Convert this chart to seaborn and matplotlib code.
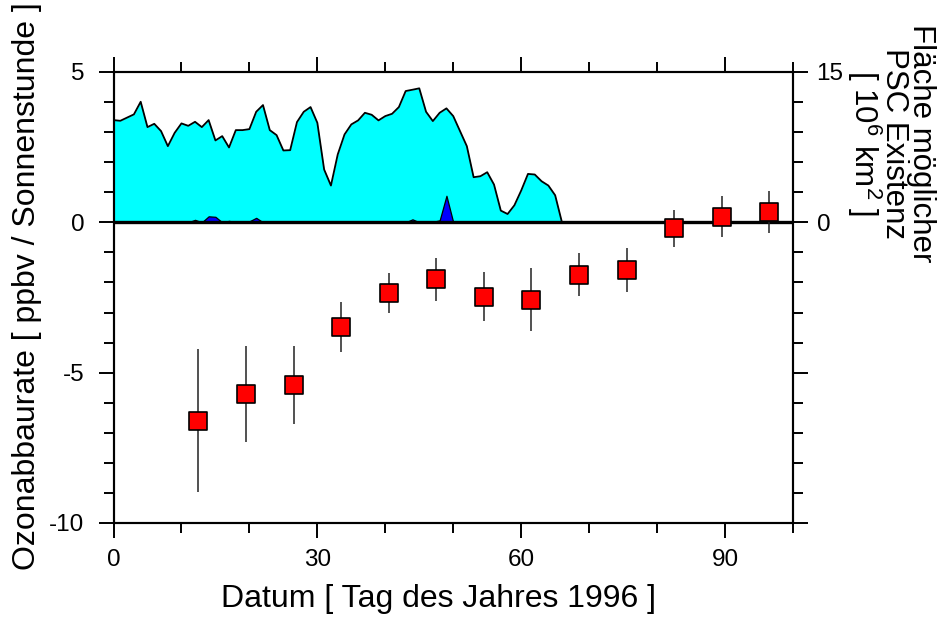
import matplotlib
matplotlib.use("Agg")
import matplotlib.pyplot as plt
from matplotlib.ticker import MultipleLocator
import pandas as pd
import seaborn as sns

# ---------------- data ----------------
psc_days = list(range(0, 67))
psc_area = [10.2, 10.13, 10.45, 10.77, 12.03, 9.5, 9.83, 9.1, 7.6, 8.93,
            9.87, 9.63, 10.03, 9.5, 10.2, 8.17, 8.6, 7.47, 9.2, 9.2,
            9.3, 11.03, 11.7, 9.2, 8.7, 7.17, 7.2, 10.0, 11.03, 11.5,
            9.93, 5.27, 3.67, 6.77, 8.77, 9.77, 10.17, 10.93, 10.73, 10.17,
            10.6, 10.83, 11.5, 13.1, 13.23, 13.37, 11.03, 10.1, 10.93, 11.37,
            10.6, 9.1, 7.6, 4.5, 4.6, 5.0, 3.77, 1.17, 0.83, 1.7,
            3.17, 4.83, 4.77, 4.1, 3.67, 2.7, 0.0]
nat_area = [0, 0, 0, 0, 0, 0, 0, 0, 0, 0,
            0, 0, 0.25, 0, 0.6, 0.55, 0, 0.15, 0, 0,
            0.1, 0.45, 0, 0, 0, 0, 0, 0, 0, 0,
            0, 0, 0, 0, 0, 0, 0, 0, 0, 0,
            0, 0, 0, 0, 0.3, 0, 0, 0.05, 0.2, 2.65,
            0, 0, 0, 0, 0, 0, 0, 0, 0, 0,
            0, 0.1, 0, 0, 0, 0, 0]

rate_days = [12.5, 19.5, 26.5, 33.5, 40.5, 47.5, 54.5, 61.5, 68.5, 75.5, 82.5, 89.5, 96.5]
rate = [-6.6, -5.7, -5.42, -3.48, -2.35, -1.9, -2.47, -2.57, -1.74, -1.59, -0.2, 0.19, 0.33]
rate_err = [2.38, 1.6, 1.3, 0.83, 0.67, 0.73, 0.82, 1.05, 0.72, 0.74, 0.61, 0.67, 0.7]

x_label = "Datum [ Tag des Jahres 1996 ]"
y_label = "Ozonabbaurate [ ppbv / Sonnenstunde ]"
y2_label = "Fläche möglicher\nPSC Existenz\n[ 10$^6$ km$^2$ ]"
y2_ticks = [-30, -15, 0, 15]
y2_ticklabels = ["", "", "0", "15"]

# ---------------- style ----------------
sns.set_theme(style="ticks")
plt.rcParams["font.family"] = ["Liberation Sans", "DejaVu Sans"]
plt.rcParams["mathtext.fontset"] = "custom"
plt.rcParams["mathtext.rm"] = "Liberation Sans"
plt.rcParams["mathtext.it"] = "Liberation Sans"
plt.rcParams["axes.unicode_minus"] = False

W, H = 942, 619
psc_df = pd.DataFrame({"day": psc_days, "psc": psc_area, "nat": nat_area})
rate_df = pd.DataFrame({"day": rate_days, "rate": rate, "err": rate_err})

fig = plt.figure(figsize=(W / 100, H / 100), dpi=100)
ax = fig.add_axes([0.1205, 0.1551, 0.7213, 0.7286])
ax2 = ax.twinx()

# PSC area axes below, ozone-loss axes on top
ax.set_zorder(ax2.get_zorder() + 1)
ax.patch.set_visible(False)

ax2.fill_between(psc_df["day"], 0, psc_df["psc"], color="#00FFFF", lw=0)
sns.lineplot(data=psc_df, x="day", y="psc", ax=ax2, color="black", lw=1.3)
ax2.fill_between(psc_df["day"], 0, psc_df["nat"], facecolor="#0000FF",
                 edgecolor="black", lw=0.9)
ax2.set_ylim(-30, 15)
ax2.set_ylabel("")

ax.axhline(0, color="black", lw=2.4, zorder=1)
ax.errorbar(rate_df["day"], rate_df["rate"], yerr=rate_df["err"], fmt="none",
            ecolor="#222222", elinewidth=1.1, capsize=0, zorder=2)
sns.scatterplot(data=rate_df, x="day", y="rate", ax=ax, marker="s", s=185,
                color="#FF0000", edgecolor="black", linewidth=1.2, zorder=3)

ax.set_xlim(0, 100)
ax.set_ylim(-10, 5)
ax.xaxis.set_major_locator(MultipleLocator(30))
ax.xaxis.set_minor_locator(MultipleLocator(10))
ax.yaxis.set_major_locator(MultipleLocator(5))
ax.yaxis.set_minor_locator(MultipleLocator(1))
ax2.set_yticks(y2_ticks)
ax2.set_yticklabels(y2_ticklabels)
ax2.yaxis.set_minor_locator(MultipleLocator(3))

for a in (ax, ax2):
    for sp in a.spines.values():
        sp.set_visible(True)
        sp.set_color("black")
        sp.set_linewidth(1.5)

ax.tick_params(which="major", direction="out", length=11, width=1.4,
               color="black", labelsize=17.5, labelcolor="black",
               top=True, labeltop=False, right=False)
ax.tick_params(which="minor", direction="out", length=7.5, width=1.4,
               color="black", top=True, right=False)
ax.tick_params(axis="y", which="major", pad=10)
ax.tick_params(axis="x", which="major", pad=8)
ax2.tick_params(which="major", direction="out", length=11, width=1.4,
                color="black", labelsize=17.5, labelcolor="black", pad=6)
ax2.tick_params(which="minor", direction="out", length=7.5, width=1.4,
                color="black")

ax.set_xlabel(x_label, fontsize=23, color="black")
ax.xaxis.set_label_coords(0.4776, -0.136)
ax.xaxis.label.set_verticalalignment("top")
ax.set_ylabel(y_label, fontsize=23, color="black")
ax.yaxis.set_label_coords(-0.105, 0.5255)

# right-hand label: three centred lines, rotated clockwise;
# anchor = baseline of the last line
fig.text(850 / W, 1 - 143 / H, y2_label, rotation=-90, rotation_mode="anchor",
         ha="center", va="baseline", multialignment="center",
         linespacing=0.86, fontsize=22.5, color="black")

fig.savefig("out.png", dpi=100, facecolor="white")
